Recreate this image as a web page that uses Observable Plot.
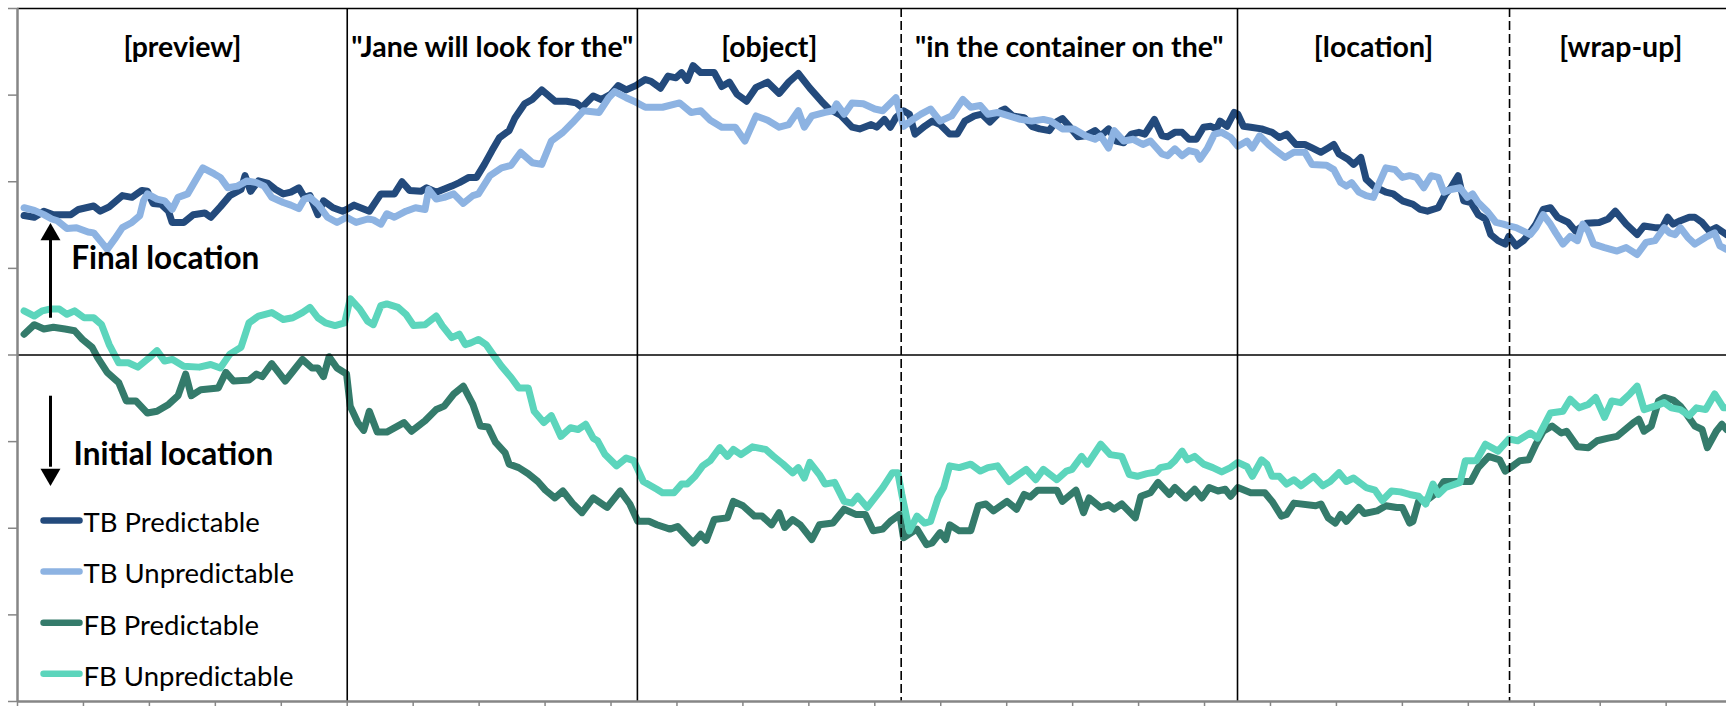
<!DOCTYPE html>
<html>
<head>
<meta charset="utf-8">
<script src="https://cdn.jsdelivr.net/npm/d3@7"></script>
<script src="https://cdn.jsdelivr.net/npm/@observablehq/plot@0.6"></script>
<style>
html, body { margin: 0; padding: 0; background: #fff; overflow: hidden; }
</style>
</head>
<body>
<div id="chart"></div>
<script>
// ---- Data (time in ms, value in arbitrary units; grid step = 10) ----
const seriesNames = ["TB Predictable", "TB Unpredictable", "FB Predictable", "FB Unpredictable"];

const tbPredT = [20,51,80,109,162,185,231,251,278,318,347,377,394,411,435,458,469,504,533,568,586,615,644,678,690,707,731,760,783,806,829,853,870,887,911,928,957,986,998,1021,1067,1102,1143,1166,1189,1224,1241,1270,1317,1340,1369,1392,1416,1439,1462,1491,1509,1538,1561,1590,1630,1665,1694,1712,1746,1770,1799,1822,1846,1875,1904,1921,1950,1973,1997,2014,2031,2049,2072,2113,2136,2159,2182,2211,2240,2275,2310,2339,2368,2403,2438,2461,2496,2531,2554,2589,2606,2629,2647,2664,2687,2705,2722,2751,2774,2798,2827,2850,2873,2902,2925,2949,2983,2995,3018,3053,3076,3100,3129,3146,3169,3192,3216,3239,3268,3285,3309,3332,3355,3378,3401,3419,3448,3471,3488,3510,3532,3553,3575,3597,3619,3636,3647,3668,3690,3701,3718,3740,3773,3805,3827,3849,3877,3904,3926,3953,3975,3992,4008,4035,4052,4074,4090,4112,4134,4150,4172,4200,4232,4254,4276,4309,4331,4347,4369,4386,4408,4430,4452,4468,4490,4512,4523,4545,4567,4583,4605,4627,4649,4671,4703,4725,4758,4797,4824,4846,4879,4912,4933,4966,4988,5005,5021,5043,5070,5087,5109,5131,5152,5183];
const tbPredV = [16.1,15.9,16.6,16.2,16.2,16.8,17.2,16.6,17.1,18.4,18.2,19.0,18.9,17.5,17.4,16.6,15.3,15.3,16.2,16.4,15.9,17.1,18.4,19.1,20.7,18.9,20.1,19.8,19.1,18.6,18.8,19.3,18.2,18.4,16.2,17.8,17.0,16.6,16.8,17.3,16.6,18.6,18.6,20.0,19.0,18.9,19.3,18.8,19.5,19.9,20.5,20.5,22.0,23.6,25.1,25.9,27.4,29.0,29.5,30.6,29.3,29.3,29.1,28.6,29.9,29.5,30.1,31.1,30.6,31.1,31.8,31.6,30.8,32.2,32.0,32.6,31.7,33.4,32.6,32.6,31.0,31.5,30.1,29.3,30.9,31.5,30.2,31.5,32.5,30.8,29.3,28.4,27.7,26.3,26.1,26.6,26.3,27.2,26.3,27.4,28.2,27.8,25.5,26.4,27.0,26.6,25.5,25.5,27.0,27.6,27.8,26.9,28.2,28.4,27.6,27.4,26.4,26.1,25.9,26.8,27.3,26.3,25.2,25.3,25.9,25.3,26.1,24.7,24.5,25.5,25.7,25.5,27.2,25.3,25.2,25.7,25.7,24.9,24.9,26.3,26.4,26.1,27.0,26.4,28.0,27.8,26.4,26.3,26.1,25.7,25.1,25.5,24.3,24.3,23.9,23.4,23.9,24.3,23.2,22.6,22.0,22.8,20.3,19.5,19.1,18.8,18.6,17.8,17.4,16.8,16.6,17.0,18.6,19.3,20.7,17.8,17.6,16.2,15.7,13.9,13.2,12.8,13.7,12.6,13.2,13.9,15.1,16.8,17.0,15.9,15.3,14.3,15.2,15.3,15.7,16.6,15.1,13.9,14.9,14.7,14.7,15.9,15.1,15.5,15.9,15.9,15.3,14.3,14.7,13.9];

const tbUnpT = [20,51,80,104,121,150,179,214,231,255,272,295,318,347,371,382,394,423,446,469,487,516,539,562,597,615,638,667,696,725,748,771,806,829,853,870,887,911,940,969,998,1027,1062,1079,1102,1120,1143,1178,1207,1236,1247,1270,1294,1323,1352,1381,1398,1433,1468,1497,1526,1561,1590,1619,1654,1683,1717,1764,1793,1811,1846,1875,1904,1956,2008,2043,2072,2101,2136,2177,2206,2240,2275,2310,2339,2368,2386,2409,2449,2473,2484,2507,2531,2565,2600,2624,2664,2687,2716,2740,2769,2798,2833,2867,2891,2920,2943,2972,3007,3042,3076,3111,3134,3169,3204,3239,3268,3285,3309,3326,3355,3384,3413,3436,3471,3488,3510,3532,3553,3575,3586,3608,3630,3652,3679,3701,3729,3745,3767,3794,3816,3844,3871,3904,3926,3970,3992,4013,4030,4046,4068,4090,4112,4128,4150,4178,4200,4222,4243,4265,4287,4309,4326,4347,4375,4397,4413,4430,4457,4484,4506,4523,4545,4567,4588,4605,4627,4649,4665,4687,4709,4731,4747,4764,4780,4813,4851,4879,4912,4939,4966,4994,5010,5027,5043,5065,5087,5120,5147,5163,5183];
const tbUnpV = [17.0,16.7,16.2,15.7,15.5,14.6,14.7,14.2,14.1,13.0,12.2,13.4,14.7,15.3,16.1,17.8,18.6,18.0,17.8,16.8,18.2,18.6,20.1,21.6,20.9,20.5,19.3,19.5,20.1,19.9,19.5,18.2,17.6,17.3,16.9,18.0,18.2,17.4,15.9,15.3,15.9,15.3,15.7,15.6,15.1,16.3,15.9,16.6,17.0,16.8,19.1,18.0,18.2,18.6,17.5,18.4,18.6,20.7,21.6,21.9,23.4,22.2,22.0,24.7,25.7,26.8,28.2,28.0,29.7,30.4,29.7,29.2,28.6,28.6,29.1,28.0,28.2,27.1,26.3,26.3,24.7,27.6,27.1,26.3,26.6,28.2,26.3,27.6,28.0,28.2,29.0,27.8,29.1,29.0,28.4,28.2,29.7,26.4,27.2,27.8,28.4,27.0,27.6,29.5,28.6,28.8,27.8,28.0,27.6,27.2,27.0,27.2,27.0,26.1,26.1,25.3,24.9,25.3,23.9,25.9,24.7,24.9,24.3,24.7,23.2,23.0,23.8,23.0,23.6,23.4,22.6,23.8,25.5,25.7,25.1,24.1,24.7,23.9,25.3,24.3,23.6,22.8,23.4,23.4,22.0,21.9,21.4,19.9,19.5,19.9,18.8,18.4,18.2,19.7,21.6,21.4,20.5,20.7,20.5,19.3,20.7,20.5,18.8,19.1,19.3,18.2,18.6,17.6,16.6,15.3,15.1,14.9,14.7,14.3,13.9,14.7,16.2,15.1,14.1,12.8,13.7,13.2,15.1,14.3,12.8,12.4,12.0,12.4,11.6,13.0,13.2,14.7,14.1,13.9,14.7,13.6,12.8,13.6,14.1,12.6,12.2];

const fbPredT = [20,51,80,109,144,173,197,226,243,272,307,330,359,394,423,458,487,510,527,556,609,632,655,702,725,742,771,812,835,864,893,911,928,945,969,998,1009,1032,1050,1067,1091,1120,1172,1195,1236,1270,1294,1323,1352,1381,1404,1427,1450,1479,1491,1520,1549,1578,1601,1630,1654,1683,1712,1746,1788,1828,1857,1881,1915,1939,1979,2002,2049,2072,2089,2113,2153,2171,2200,2235,2258,2287,2310,2327,2351,2374,2409,2432,2473,2507,2542,2571,2595,2624,2647,2676,2687,2711,2728,2757,2774,2798,2815,2827,2856,2891,2914,2937,2960,3001,3030,3053,3071,3094,3152,3169,3210,3233,3250,3285,3309,3326,3349,3390,3407,3436,3459,3493,3510,3543,3570,3592,3614,3641,3663,3679,3701,3740,3783,3805,3833,3849,3871,3937,3953,3975,3997,4013,4030,4068,4085,4123,4150,4183,4200,4222,4232,4249,4276,4304,4326,4408,4430,4462,4495,4512,4528,4556,4583,4605,4627,4654,4682,4698,4731,4764,4791,4824,4851,4901,4917,4933,4955,4977,4994,5021,5043,5065,5087,5109,5125,5152,5169,5183];
const fbPredV = [2.4,3.5,3.0,3.2,3.0,2.8,1.8,0.9,-0.3,-2.0,-3.2,-5.3,-5.3,-6.7,-6.5,-5.7,-4.7,-2.2,-4.7,-4.0,-3.8,-2.0,-3.0,-2.9,-2.2,-2.5,-1.0,-3.0,-1.9,-0.5,-1.5,-1.5,-2.5,-0.2,-1.5,-2.2,-5.9,-7.8,-8.7,-6.5,-8.9,-8.9,-7.8,-8.8,-7.6,-6.3,-5.9,-4.5,-3.6,-5.7,-8.2,-8.3,-10.1,-11.3,-12.6,-13.0,-13.7,-14.6,-15.6,-16.5,-15.7,-17.1,-18.2,-16.5,-17.6,-15.7,-17.2,-19.2,-19.2,-19.6,-20.1,-19.8,-21.7,-20.7,-21.4,-19.0,-18.8,-16.9,-17.4,-18.6,-18.6,-19.6,-18.2,-19.9,-19.0,-19.6,-21.3,-19.6,-19.4,-17.8,-18.4,-18.4,-20.3,-20.1,-19.2,-18.4,-21.1,-20.5,-20.1,-21.9,-21.7,-20.5,-21.3,-19.6,-20.3,-20.3,-17.4,-17.2,-18.0,-16.9,-17.8,-16.1,-16.4,-15.6,-15.6,-16.9,-15.6,-18.2,-16.5,-17.6,-17.3,-17.8,-17.2,-18.8,-16.3,-15.9,-14.7,-16.1,-15.3,-16.5,-15.5,-16.5,-15.3,-15.7,-15.5,-16.3,-15.3,-15.9,-15.9,-16.9,-18.6,-18.4,-17.1,-17.4,-17.2,-18.8,-19.4,-18.4,-19.2,-17.6,-18.3,-18.0,-17.4,-17.6,-17.6,-19.4,-19.2,-16.9,-16.7,-15.9,-14.6,-14.6,-13.0,-11.7,-12.1,-13.4,-13.0,-12.2,-12.1,-10.3,-8.8,-8.2,-9.0,-8.8,-10.6,-10.7,-9.9,-9.6,-9.4,-7.8,-7.4,-8.8,-8.2,-5.3,-4.9,-5.2,-5.9,-7.0,-8.2,-8.6,-10.7,-8.8,-8.0,-8.6];

const fbUnpT = [20,51,75,98,127,150,173,202,231,255,278,307,336,365,400,423,446,469,504,551,586,615,644,678,702,731,771,806,835,864,887,911,934,963,992,1009,1038,1062,1079,1102,1120,1154,1178,1201,1236,1270,1288,1317,1340,1358,1375,1398,1421,1445,1468,1497,1520,1549,1567,1596,1619,1648,1677,1700,1723,1746,1759,1782,1817,1846,1869,1898,1939,1956,1991,2014,2031,2055,2078,2101,2130,2153,2171,2194,2229,2269,2293,2322,2351,2368,2386,2403,2432,2449,2478,2507,2531,2548,2577,2600,2624,2653,2670,2682,2705,2728,2751,2769,2792,2809,2827,2856,2891,2920,2943,2972,3007,3036,3059,3088,3111,3152,3181,3198,3227,3245,3285,3314,3349,3372,3396,3425,3454,3466,3493,3510,3532,3548,3570,3597,3625,3652,3679,3701,3729,3745,3773,3789,3805,3827,3849,3871,3893,3931,3959,3981,4008,4030,4052,4090,4117,4139,4167,4194,4222,4249,4271,4293,4309,4331,4375,4391,4424,4452,4490,4523,4550,4588,4610,4649,4687,4709,4736,4764,4786,4813,4835,4862,4890,4912,4933,4966,4994,5016,5043,5070,5092,5120,5147,5174,5183];
const fbUnpV = [5.1,4.5,5.1,5.3,5.3,4.7,5.1,4.3,4.3,3.5,1.2,-0.9,-0.9,-1.4,-0.3,0.5,-0.7,-0.5,-1.3,-1.4,-1.1,-1.5,0.1,0.9,3.7,4.5,4.9,4.1,4.3,4.9,5.5,4.3,3.7,3.4,3.7,6.5,5.3,3.9,3.5,5.7,5.9,5.5,4.7,3.4,3.5,4.5,3.4,2.0,2.4,1.2,1.4,1.8,1.2,-0.1,-1.3,-2.6,-3.8,-3.8,-6.5,-7.8,-7.0,-9.4,-8.4,-8.6,-8.0,-9.6,-9.9,-11.5,-12.8,-11.9,-12.2,-14.6,-15.5,-15.9,-15.9,-14.9,-14.9,-14.0,-12.8,-12.2,-10.7,-11.7,-10.9,-11.5,-10.6,-10.9,-11.7,-12.6,-13.6,-13.0,-14.2,-12.4,-13.8,-14.9,-14.7,-16.9,-17.1,-16.3,-17.6,-16.5,-15.3,-13.6,-13.6,-16.1,-20.3,-18.6,-19.4,-19.2,-16.5,-15.3,-12.8,-13.0,-12.6,-13.4,-13.0,-12.8,-14.6,-13.8,-13.2,-14.4,-13.2,-14.4,-13.4,-13.2,-11.7,-12.6,-10.3,-11.5,-11.7,-13.8,-14.0,-13.7,-13.5,-13.0,-12.8,-12.2,-11.1,-12.1,-11.7,-12.6,-13.0,-13.5,-13.0,-12.4,-12.9,-14.0,-12.1,-12.6,-14.0,-14.0,-14.9,-14.4,-15.1,-14.0,-15.1,-14.6,-13.6,-14.6,-14.2,-15.3,-15.6,-16.8,-15.7,-15.8,-16.1,-16.3,-17.2,-14.9,-16.1,-15.3,-14.7,-12.2,-12.2,-10.3,-11.1,-9.7,-9.9,-9.0,-9.6,-6.7,-6.5,-5.1,-6.1,-5.7,-4.9,-7.2,-5.3,-5.5,-4.5,-3.6,-6.3,-5.9,-5.5,-6.1,-6.3,-7.0,-6.1,-6.3,-4.5,-6.1,-6.1];

// Phase labels and boundaries (ms)
const phaseLabels = ["[preview]", "\"Jane will look for the\"", "[object]", "\"in the container on the\"", "[location]", "[wrap-up]"];
const phaseStarts = [0, 1000, 1880, 2680, 3700, 4525];
const phaseEnds   = [1000, 1880, 2680, 3700, 4525, 5200];
const solidBounds = [1000, 1880, 3700];
const dashedBounds = [2680, 4525];
const yTicks = d3.range(-40, 41, 10);
const xTicks = d3.range(0, 5200, 200);

// ---- Build tables ----
const colors = ["#234a7c", "#8db3e2", "#347b6b", "#5cd5bc"];
const allT = [tbPredT, tbUnpT, fbPredT, fbUnpT];
const allV = [tbPredV, tbUnpV, fbPredV, fbUnpV];
const rows = seriesNames.flatMap((name, k) => allT[k].map((t, i) => ({series: name, t, v: allV[k][i]})));
const phases = phaseLabels.map((label, i) => ({label, mid: (phaseStarts[i] + phaseEnds[i]) / 2}));

// annotation layout (in data units)
const legendY = [-19.1, -25.0, -30.9, -36.8];
const legend = seriesNames.map((name, i) => ({name, y: legendY[i]}));
const arrows = [
  {x: 100, from: 4.3, to: 13.3, head: 13.9, rot: 0},
  {x: 100, from: -4.7, to: -12.9, head: -13.8, rot: 180}
];
const notes = [
  {x: 163, y: 11.15, text: "Final location"},
  {x: 170, y: -11.5, text: "Initial location"}
];

const chart = Plot.plot({
  width: 1726,
  height: 706,
  marginTop: 8,
  marginRight: 0,
  marginBottom: 5,
  marginLeft: 17,
  x: {domain: [0, 5183]},
  y: {domain: [-40, 40]},
  color: {domain: seriesNames, range: colors},
  style: {fontFamily: "Lato, 'DejaVu Sans', sans-serif", background: "white", color: "black"},
  marks: [
    Plot.axisY({ticks: yTicks, tickSize: 9, tickFormat: () => "", label: null, stroke: "#868686", strokeWidth: 1.5}),
    Plot.axisX({ticks: xTicks, tickSize: 6, tickFormat: () => "", label: null, stroke: "#868686", strokeWidth: 1.5}),
    Plot.ruleY([40], {stroke: "black", strokeWidth: 1.5}),
    Plot.line(rows, {x: "t", y: "v", z: "series", stroke: "series", strokeWidth: 7, strokeLinejoin: "round", strokeLinecap: "round", clip: true}),
    Plot.ruleY([0], {stroke: "black", strokeWidth: 1.6}),
    Plot.ruleX(solidBounds, {stroke: "black", strokeWidth: 1.6}),
    Plot.ruleX(dashedBounds, {stroke: "black", strokeWidth: 1.6, strokeDasharray: "9,4"}),
    Plot.ruleX([0], {stroke: "#868686", strokeWidth: 2.5}),
    Plot.ruleY([-40], {stroke: "#868686", strokeWidth: 2.5}),
    Plot.text(phases, {x: "mid", frameAnchor: "top", dy: 28.5, text: "label", fontWeight: "bold", fontSize: 28.5, fill: "black"}),
    Plot.link(arrows, {x1: "x", x2: "x", y1: "from", y2: "to", stroke: "black", strokeWidth: 3}),
    Plot.dot(arrows, {x: "x", y: "head", symbol: "triangle", r: 7.4, fill: "black", stroke: null, rotate: "rot"}),
    Plot.text(notes, {x: "x", y: "y", text: "text", textAnchor: "start", fontWeight: "bold", fontSize: 31.5, fill: "black"}),
    Plot.link(legend, {x1: 79, x2: 188, y1: "y", y2: "y", stroke: "name", strokeWidth: 6.5, strokeLinecap: "round"}),
    Plot.text(legend, {x: 200, y: d => d.y - 0.35, text: "name", textAnchor: "start", fontSize: 27.5, fill: "black"})
  ]
});
document.getElementById("chart").appendChild(chart);
</script>
</body>
</html>
